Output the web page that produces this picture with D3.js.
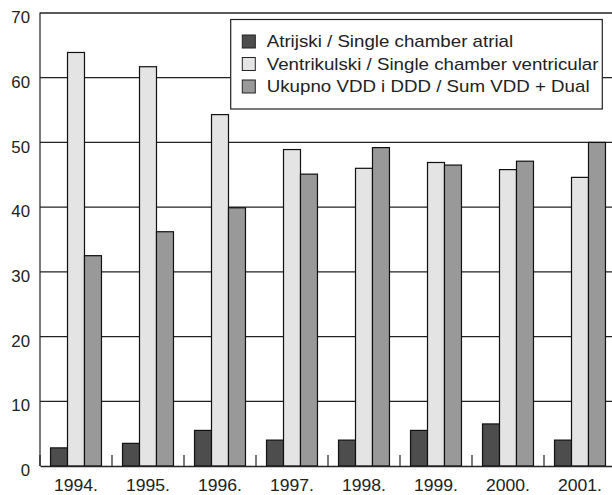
<!DOCTYPE html>
<html lang="en">
  <head>
    <meta charset="UTF-8" />
    <title>Pacemaker types by year</title>
    <script src="https://d3js.org/d3.v7.min.js"></script>
    <style>
      body {
        margin: 0;
        background: #fff;
      }
      text {
        font-family: "Liberation Sans", Arial, sans-serif;
        fill: #222;
      }
    </style>
  </head>
  <body>
    <div class="chart"></div>
  </body>

  <script>
    var years = ["1994.", "1995.", "1996.", "1997.", "1998.", "1999.", "2000.", "2001."];
    var seriesNames = [
      "Atrijski / Single chamber atrial",
      "Ventrikulski / Single chamber ventricular",
      "Ukupno VDD i DDD / Sum VDD + Dual",
    ];
    var atrial = [2.8, 3.5, 5.5, 4.0, 4.0, 5.5, 6.5, 4.0];
    var ventricular = [63.9, 61.7, 54.3, 48.9, 46.0, 46.9, 45.8, 44.6];
    var dual = [32.5, 36.2, 39.9, 45.1, 49.2, 46.5, 47.1, 50.0];
    var yTicks = [0, 10, 20, 30, 40, 50, 60, 70];
    var colors = ["#4d4d4d", "#e4e4e4", "#999999"];

    var margin = { top: 13, right: -4, bottom: 29, left: 40 };
    var width = 612 - margin.left - margin.right;
    var height = 495 - margin.top - margin.bottom;

    var svg = d3
      .select(".chart")
      .append("svg")
      .attr("width", 612)
      .attr("height", 495)
      .append("g")
      .attr("transform", "translate(" + margin.left + "," + margin.top + ")");

    var data = years.map(function (y, i) {
      return { year: y, values: [atrial[i], ventricular[i], dual[i]] };
    });

    var x0 = d3.scaleBand().domain(years).range([0, width]);
    var x1 = d3
      .scaleBand()
      .domain([0, 1, 2])
      .range([0, x0.bandwidth()])
      .paddingOuter(0.62);
    var y = d3.scaleLinear().domain([0, 70]).range([height, 0]);

    // gridlines
    svg
      .selectAll(".grid")
      .data(yTicks.filter((d) => d > 0))
      .enter()
      .append("line")
      .attr("x1", 0)
      .attr("x2", width)
      .attr("y1", (d) => y(d))
      .attr("y2", (d) => y(d))
      .attr("stroke", "#222")
      .attr("stroke-width", 1.2);

    // legend (gridlines pass behind it)
    var legend = svg.append("g").attr("transform", "translate(190.7,6.5)");
    legend
      .append("rect")
      .attr("width", 371.6)
      .attr("height", 89.5)
      .attr("fill", "#fff")
      .attr("stroke", "#222")
      .attr("stroke-width", 1.2);
    var items = legend
      .selectAll(".item")
      .data(seriesNames)
      .enter()
      .append("g")
      .attr("transform", (d, i) => "translate(11.6," + (22 + i * 22.5) + ")");
    items
      .append("rect")
      .attr("y", -6.5)
      .attr("width", 13)
      .attr("height", 13)
      .attr("fill", (d, i) => colors[i])
      .attr("stroke", "#222")
      .attr("stroke-width", 1);
    items
      .append("text")
      .attr("transform", "translate(24.4,0) scale(1.17,1)")
      .attr("dy", "0.36em")
      .style("font-size", "16px")
      .text((d) => d);

    // bars
    var groups = svg
      .selectAll(".year")
      .data(data)
      .enter()
      .append("g")
      .attr("transform", (d) => "translate(" + x0(d.year) + ",0)");
    groups
      .selectAll("rect")
      .data((d) => d.values)
      .enter()
      .append("rect")
      .attr("x", (d, i) => x1(i))
      .attr("width", x1.bandwidth())
      .attr("y", (d) => y(d))
      .attr("height", (d) => height - y(d))
      .attr("fill", (d, i) => colors[i])
      .attr("stroke", "#111")
      .attr("stroke-width", 1.2);

    // frame: left and top
    svg
      .append("path")
      .attr("d", "M0," + height + "V0H" + width)
      .attr("fill", "none")
      .attr("stroke", "#222")
      .attr("stroke-width", 1.2);

    // y axis labels (sit a little below their gridlines)
    var yAxis = d3.axisLeft(y).tickValues(yTicks).tickSize(0).tickPadding(0);
    var gy = svg.append("g").call(yAxis);
    gy.select(".domain").remove();
    gy.selectAll("text")
      .style("font-size", "16px")
      .attr("fill", "#222")
      .attr("x", null)
      .attr("transform", "translate(-10,4.5) scale(1.05,1)");

    // x axis with ticks at band boundaries
    var xAxis = d3.axisBottom(x0).tickSize(0).tickPadding(14);
    var gx = svg.append("g").attr("transform", "translate(0," + height + ")").call(xAxis);
    gx.select(".domain").attr("stroke", "#222").attr("stroke-width", 1.5);
    gx.selectAll("text")
      .style("font-size", "16px")
      .attr("fill", "#222")
      .attr("transform", "scale(1.1,1)");
    gx.selectAll(".sep")
      .data(years)
      .enter()
      .append("line")
      .attr("x1", (d) => x0(d))
      .attr("x2", (d) => x0(d))
      .attr("y1", 0)
      .attr("y2", -11)
      .attr("stroke", "#222")
      .attr("stroke-width", 1.2);
  </script>
</html>
